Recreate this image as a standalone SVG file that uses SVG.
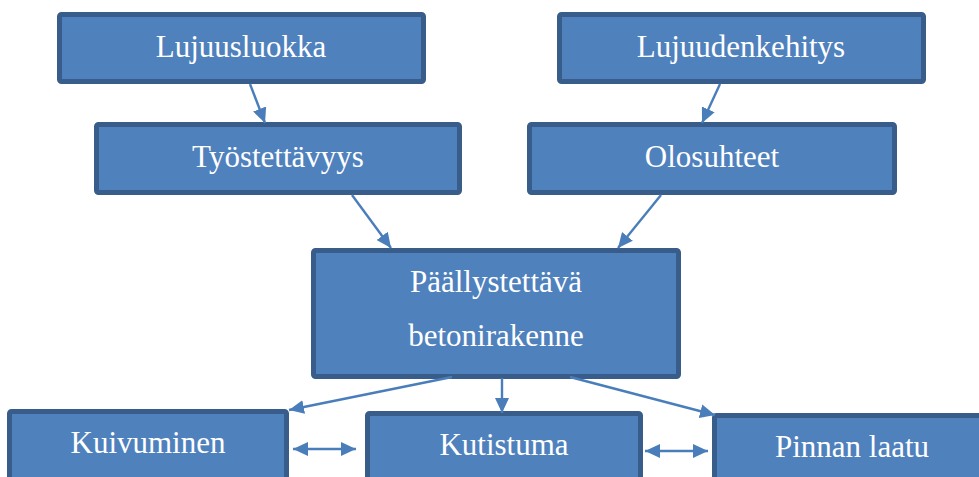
<svg xmlns="http://www.w3.org/2000/svg" width="979" height="477" viewBox="0 0 979 477">
<style>
.box{fill:#4f81bd;stroke:#385d8a;stroke-width:5}
.t{font-family:'Liberation Serif','Times New Roman','DejaVu Serif',serif;font-size:31px;fill:#ffffff;text-anchor:middle}
.c{stroke:#4a7ebb;stroke-width:2.4;fill:none}
</style>
<defs>
<marker id="ah" viewBox="0 0 15 14" refX="15" refY="7" markerWidth="15" markerHeight="14" markerUnits="userSpaceOnUse" orient="auto-start-reverse">
<path d="M0,0 L15,7 L0,14 Z" fill="#4a7ebb"/>
</marker>
</defs>
<rect width="979" height="477" fill="#ffffff"/>
<g id="lujuusluokka"><rect class="box" x="59.5" y="14.5" width="364" height="67" rx="2"/><text class="t" x="241" y="57">Lujuusluokka</text></g>
<g id="lujuudenkehitys"><rect class="box" x="559.5" y="14.5" width="364" height="67" rx="2"/><text class="t" x="741" y="57">Lujuudenkehitys</text></g>
<g id="tyostettavyys"><rect class="box" x="96.5" y="124.5" width="363" height="68" rx="2"/><text class="t" x="278" y="167">Työstettävyys</text></g>
<g id="olosuhteet"><rect class="box" x="529.5" y="124.5" width="365" height="68" rx="2"/><text class="t" x="712" y="167">Olosuhteet</text></g>
<g id="paallystettava"><rect class="box" x="313.5" y="250.5" width="365" height="126" rx="2"/><text class="t" x="496" y="292">Päällystettävä</text><text class="t" x="496" y="346">betonirakenne</text></g>
<g id="kuivuminen"><rect class="box" x="9.5" y="411.5" width="277" height="80" rx="2"/><text class="t" x="148" y="453">Kuivuminen</text></g>
<g id="kutistuma"><rect class="box" x="367.5" y="413.5" width="273" height="80" rx="2"/><text class="t" x="504" y="455">Kutistuma</text></g>
<g id="pinnan-laatu"><rect class="box" x="714.5" y="415.5" width="275" height="80" rx="2"/><text class="t" x="852" y="457">Pinnan laatu</text></g>
<g id="connectors">
<line class="c" x1="250" y1="84" x2="265" y2="123" marker-end="url(#ah)"/>
<line class="c" x1="720" y1="84" x2="702" y2="123" marker-end="url(#ah)"/>
<line class="c" x1="352" y1="195" x2="391" y2="248" marker-end="url(#ah)"/>
<line class="c" x1="661" y1="195" x2="618" y2="248" marker-end="url(#ah)"/>
<line class="c" x1="452" y1="377" x2="289" y2="410" marker-end="url(#ah)"/>
<line class="c" x1="502" y1="378" x2="502" y2="413" marker-end="url(#ah)"/>
<line class="c" x1="570" y1="377" x2="715" y2="415" marker-end="url(#ah)"/>
<line class="c" x1="293" y1="449" x2="356" y2="449" marker-start="url(#ah)" marker-end="url(#ah)"/>
<line class="c" x1="645" y1="451" x2="708" y2="451" marker-start="url(#ah)" marker-end="url(#ah)"/>
</g>
</svg>
